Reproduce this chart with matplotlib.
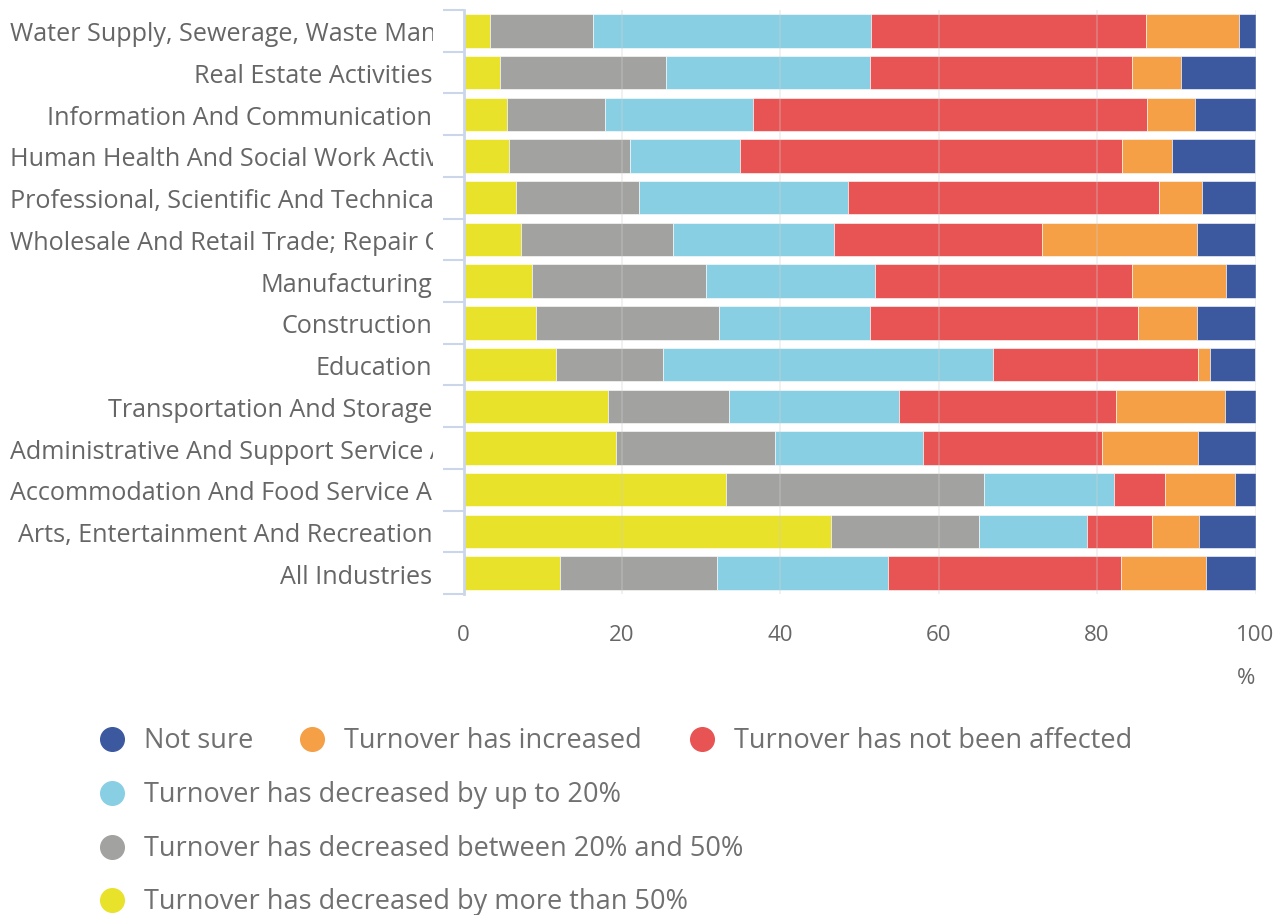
import matplotlib
matplotlib.use("Agg")
import matplotlib.pyplot as plt
from matplotlib.transforms import Bbox, blended_transform_factory, ScaledTranslation
from matplotlib.lines import Line2D
import numpy as np

plt.rcParams['font.family'] = ['Open Sans', 'DejaVu Sans']

industries = [
    "Water Supply, Sewerage, Waste Management And Remediation Activities",
    "Real Estate Activities",
    "Information And Communication",
    "Human Health And Social Work Activities",
    "Professional, Scientific And Technical Activities",
    "Wholesale And Retail Trade; Repair Of Motor Vehicles And Motorcycles",
    "Manufacturing",
    "Construction",
    "Education",
    "Transportation And Storage",
    "Administrative And Support Service Activities",
    "Accommodation And Food Service Activities",
    "Arts, Entertainment And Recreation",
    "All Industries",
]

# percentages, left to right in each bar
more_than_50 = [3.4, 4.6, 5.5, 5.7, 6.6, 7.2, 8.6, 9.1, 11.7, 18.2, 19.3, 33.2, 46.4, 12.2]
between_20_50 = [13.0, 21.0, 12.4, 15.3, 15.6, 19.2, 22.0, 23.2, 13.5, 15.3, 20.0, 32.5, 18.7, 19.8]
up_to_20 = [35.1, 25.7, 18.7, 13.9, 26.3, 20.4, 21.3, 19.0, 41.6, 21.5, 18.7, 16.4, 13.6, 21.6]
not_affected = [34.7, 33.1, 49.7, 48.3, 39.3, 26.3, 32.5, 33.9, 26.0, 27.4, 22.6, 6.5, 8.2, 29.4]
increased = [11.7, 6.2, 6.0, 6.2, 5.4, 19.5, 11.9, 7.4, 1.4, 13.7, 12.2, 8.8, 6.0, 10.8]
not_sure = [2.1, 9.4, 7.7, 10.5, 6.8, 7.4, 3.8, 7.4, 5.7, 4.0, 7.2, 2.7, 7.2, 6.3]

series = [
    ("Turnover has decreased by more than 50%", more_than_50, "#e8e22b"),
    ("Turnover has decreased between 20% and 50%", between_20_50, "#a2a2a0"),
    ("Turnover has decreased by up to 20%", up_to_20, "#89cfe4"),
    ("Turnover has not been affected", not_affected, "#e85353"),
    ("Turnover has increased", increased, "#f59f46"),
    ("Not sure", not_sure, "#3c59a0"),
]

W, H = 1285, 915
fig = plt.figure(figsize=(W / 100, H / 100), dpi=100)
ax = fig.add_axes([463.5 / W, 1 - 594 / H, 792 / W, 584 / H])

y = np.arange(len(industries))
left = np.zeros(len(industries))
for name, vals, col in series:
    ax.barh(y, vals, left=left, height=0.8, color=col, edgecolor="white",
            linewidth=0.4, zorder=2)
    left += np.array(vals)

ax.set_xlim(0, 100)
ax.set_ylim(len(industries) - 0.5, -0.5)
ax.set_xticks(range(0, 101, 20))
ax.xaxis.grid(True, color="#cfcfcf", linewidth=1.2, alpha=0.35, zorder=3)
ax.set_axisbelow(False)
ax.tick_params(axis="x", length=0, pad=22, labelsize=16, labelcolor="#666666")
for s in ["top", "right", "bottom"]:
    ax.spines[s].set_visible(False)
ax.spines["left"].set_color("#ccd6eb")
ax.spines["left"].set_linewidth(2)
ax.spines["left"].set_zorder(4)

# category boundary ticks
ax.set_yticks(np.arange(-0.5, len(industries), 1.0))
ax.set_yticklabels([])
ax.tick_params(axis="y", length=15, width=1.5, color="#ccd6eb")

# category labels, long ones clipped like the original
renderer = fig.canvas.get_renderer()
trans = blended_transform_factory(fig.transFigure, ax.transData) + \
    ScaledTranslation(0, -4 / 100, fig.dpi_scale_trans)
clip = Bbox.from_extents(0, 0, 433, H)
for i, lab in enumerate(industries):
    t = fig.text(432 / W, 0, lab, fontsize=18.1, color="#666666", ha="right",
                 va="center", transform=trans)
    t.set_y(i)
    bb = t.get_window_extent(renderer)
    if bb.x0 < 10:
        t.set_x(10 / W)
        t.set_ha("left")
        t.set_clip_box(clip)
        t.set_clip_on(True)

fig.text(1255 / W, 1 - 679 / H, "%", fontsize=16, color="#666666",
         ha="right", va="center")

# legend laid out as in the source chart
legend_pos = [
    ("Not sure", 112, 739),
    ("Turnover has increased", 312, 739),
    ("Turnover has not been affected", 702, 739),
    ("Turnover has decreased by up to 20%", 112, 793),
    ("Turnover has decreased between 20% and 50%", 112, 847),
    ("Turnover has decreased by more than 50%", 112, 900),
]
colors = {name: col for name, _, col in series}
for name, px, py in legend_pos:
    fig.add_artist(Line2D([px / W], [1 - py / H], marker="o", markersize=17,
                          color=colors[name], linestyle="none",
                          transform=fig.transFigure))
    fig.text((px + 32) / W, 1 - (py + 2) / H, name, fontsize=19.5,
             color="#707070", ha="left", va="center")

fig.savefig("out.png", dpi=100)
